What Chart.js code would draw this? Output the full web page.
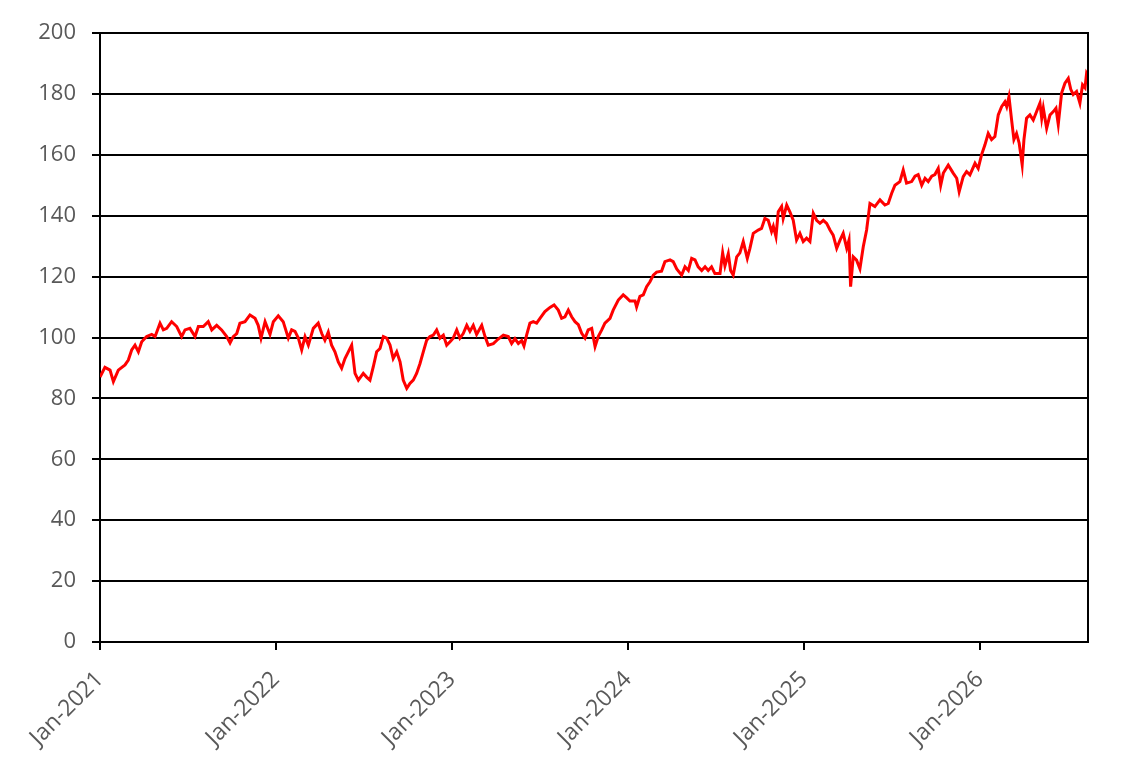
<!DOCTYPE html>
<html>
<head>
<meta charset="utf-8">
<script src="https://cdn.jsdelivr.net/npm/chart.js@4.4.1/dist/chart.umd.min.js"></script>
<style>
  body { margin: 0; background: #fff; }
  #wrap { width: 1144px; height: 769px; }
</style>
</head>
<body>
<div id="wrap"><canvas id="price-chart" width="1144" height="769"></canvas></div>
<script>
// x positions as decimal years
let years = [
  2021.000, 2021.028, 2021.057, 2021.076, 2021.104, 2021.142, 2021.161, 2021.180, 2021.199, 2021.218,
  2021.237, 2021.265, 2021.294, 2021.313, 2021.341, 2021.360, 2021.379, 2021.407, 2021.436, 2021.464,
  2021.483, 2021.511, 2021.540, 2021.559, 2021.587, 2021.615, 2021.635, 2021.663, 2021.691, 2021.720,
  2021.739, 2021.757, 2021.777, 2021.795, 2021.824, 2021.852, 2021.881, 2021.899, 2021.915, 2021.938,
  2021.966, 2021.985, 2022.013, 2022.041, 2022.070, 2022.089, 2022.108, 2022.127, 2022.146, 2022.165,
  2022.184, 2022.212, 2022.240, 2022.260, 2022.278, 2022.297, 2022.316, 2022.335, 2022.354, 2022.373,
  2022.392, 2022.411, 2022.430, 2022.449, 2022.468, 2022.496, 2022.515, 2022.534, 2022.553, 2022.572,
  2022.591, 2022.610, 2022.629, 2022.648, 2022.666, 2022.686, 2022.705, 2022.723, 2022.743, 2022.761,
  2022.780, 2022.799, 2022.818, 2022.837, 2022.856, 2022.875, 2022.894, 2022.913, 2022.932, 2022.951,
  2022.970, 2022.989, 2023.007, 2023.027, 2023.045, 2023.064, 2023.084, 2023.102, 2023.121, 2023.140,
  2023.169, 2023.188, 2023.206, 2023.235, 2023.263, 2023.292, 2023.320, 2023.339, 2023.358, 2023.377,
  2023.396, 2023.409, 2023.424, 2023.443, 2023.462, 2023.481, 2023.500, 2023.528, 2023.557, 2023.580,
  2023.604, 2023.623, 2023.642, 2023.661, 2023.680, 2023.699, 2023.718, 2023.737, 2023.756, 2023.774,
  2023.794, 2023.813, 2023.831, 2023.851, 2023.869, 2023.898, 2023.916, 2023.945, 2023.973, 2023.993,
  2024.011, 2024.040, 2024.049, 2024.068, 2024.087, 2024.106, 2024.125, 2024.144, 2024.163, 2024.191,
  2024.210, 2024.239, 2024.257, 2024.277, 2024.305, 2024.324, 2024.343, 2024.362, 2024.381, 2024.399,
  2024.419, 2024.438, 2024.456, 2024.475, 2024.494, 2024.523, 2024.538, 2024.551, 2024.570, 2024.583,
  2024.598, 2024.618, 2024.636, 2024.655, 2024.678, 2024.693, 2024.712, 2024.740, 2024.759, 2024.778,
  2024.797, 2024.816, 2024.826, 2024.841, 2024.854, 2024.873, 2024.882, 2024.902, 2024.920, 2024.939,
  2024.958, 2024.977, 2024.996, 2025.015, 2025.034, 2025.053, 2025.072, 2025.091, 2025.110, 2025.129,
  2025.148, 2025.166, 2025.186, 2025.205, 2025.223, 2025.243, 2025.256, 2025.265, 2025.280, 2025.299,
  2025.318, 2025.337, 2025.356, 2025.375, 2025.403, 2025.432, 2025.460, 2025.479, 2025.498, 2025.517,
  2025.545, 2025.564, 2025.583, 2025.612, 2025.631, 2025.649, 2025.669, 2025.688, 2025.706, 2025.726,
  2025.744, 2025.763, 2025.777, 2025.792, 2025.820, 2025.848, 2025.868, 2025.882, 2025.905, 2025.924,
  2025.943, 2025.972, 2025.990, 2026.009, 2026.028, 2026.047, 2026.066, 2026.085, 2026.104, 2026.123,
  2026.142, 2026.152, 2026.165, 2026.180, 2026.193, 2026.208, 2026.223, 2026.240, 2026.250, 2026.265,
  2026.284, 2026.303, 2026.322, 2026.341, 2026.351, 2026.360, 2026.379, 2026.398, 2026.417, 2026.432,
  2026.445, 2026.464, 2026.483, 2026.502, 2026.516, 2026.530, 2026.549, 2026.568, 2026.583, 2026.597,
  2026.606, 2026.614
];

let values = [
  87.0, 90.2, 89.3, 85.5, 89.3, 91.0, 92.6, 95.9, 97.5, 95.3,
  98.6, 100.3, 101.0, 100.3, 104.7, 102.5, 103.0, 105.2, 103.6, 100.3,
  102.5, 103.0, 100.3, 103.6, 103.6, 105.2, 102.5, 104.0, 102.5, 100.3,
  98.2, 100.3, 101.3, 104.7, 105.2, 107.4, 106.3, 104.0, 99.8, 105.2,
  101.0, 105.2, 107.1, 105.2, 99.8, 102.5, 102.0, 99.8, 95.9, 100.3,
  97.5, 103.0, 104.7, 101.3, 99.1, 101.8, 97.5, 95.3, 92.0, 89.9,
  93.1, 95.3, 97.5, 88.2, 86.0, 88.2, 87.0, 86.0, 90.4, 95.3,
  96.4, 100.3, 99.8, 97.5, 93.1, 95.3, 92.0, 86.0, 83.3, 84.9,
  86.0, 88.2, 91.4, 95.3, 99.1, 100.3, 100.8, 102.5, 99.8, 100.8,
  97.5, 98.6, 99.8, 102.5, 99.8, 101.3, 104.0, 102.0, 104.0, 101.0,
  104.0, 100.3, 97.5, 98.0, 99.5, 100.8, 100.3, 98.0, 99.6, 98.0,
  99.0, 97.2, 100.8, 104.7, 105.2, 104.7, 106.3, 108.5, 109.9, 110.7,
  109.0, 106.3, 106.8, 109.0, 106.8, 105.2, 104.2, 101.4, 99.8, 102.5,
  103.0, 97.0, 100.3, 102.5, 104.7, 106.3, 109.0, 112.3, 114.0, 113.0,
  112.0, 112.0, 110.0, 113.5, 114.0, 116.7, 118.3, 120.5, 121.5, 121.8,
  124.9, 125.5, 124.9, 122.5, 120.5, 123.2, 122.0, 126.0, 125.5, 123.2,
  122.0, 123.2, 122.0, 123.2, 121.0, 121.0, 127.8, 123.5, 127.5, 122.0,
  120.5, 126.5, 127.8, 131.5, 126.0, 129.3, 134.2, 135.3, 135.8, 139.1,
  138.5, 134.8, 136.5, 133.1, 141.3, 143.0, 139.1, 143.5, 141.3, 138.5,
  132.0, 134.2, 131.5, 132.6, 131.5, 140.8, 138.5, 137.5, 138.5, 137.5,
  135.3, 133.6, 129.3, 132.0, 134.2, 129.3, 132.0, 116.7, 126.5, 125.4,
  122.6, 129.8, 135.3, 144.0, 143.0, 145.2, 143.5, 144.0, 147.3, 150.0,
  151.2, 155.0, 150.7, 151.2, 153.0, 153.5, 150.0, 152.3, 151.2, 153.0,
  153.5, 155.5, 150.0, 154.0, 156.6, 154.0, 152.3, 147.9, 152.8, 154.5,
  153.4, 157.2, 155.5, 160.0, 163.2, 167.0, 165.0, 166.0, 173.1, 175.8,
  177.4, 175.8, 179.1, 171.4, 165.0, 167.0, 163.8, 156.7, 165.0, 172.0,
  173.1, 171.4, 174.2, 177.0, 172.0, 175.3, 168.7, 173.1, 174.2, 175.3,
  170.0, 180.3, 183.5, 185.1, 181.5, 179.8, 180.8, 177.0, 183.0, 182.0,
  186.8, 186.0
];

// axis settings
let yearTicks = [2021, 2022, 2023, 2024, 2025, 2026];
let xMin = 2021;
let xMax = 2026.614;
let yMin = 0;
let yMax = 200;
let yStep = 20;

let points = [];
years.forEach((y, i) => points.push({ x: y, y: values[i] }));

// right frame line of the plot area
const frameRight = {
    id: 'frameRight',
    afterDraw(chart) {
        const { ctx, chartArea } = chart;
        ctx.save();
        ctx.strokeStyle = '#000';
        ctx.lineWidth = 2;
        ctx.beginPath();
        ctx.moveTo(chartArea.right, chartArea.top - 1);
        ctx.lineTo(chartArea.right, chartArea.bottom + 1);
        ctx.stroke();
        ctx.restore();
    }
};

const ctx = document.getElementById('price-chart').getContext('2d');

let myChart = new Chart(ctx, {
    type: 'line',
    data: {
        datasets: [{
            label: 'Index',
            data: points,
            borderColor: '#ff0000',
            backgroundColor: '#ff0000',
            borderWidth: 3,
            pointRadius: 0,
            tension: 0
        }]
    },
    options: {
        responsive: false,
        animation: false,
        devicePixelRatio: 1,
        layout: { padding: { top: 33, right: 56, left: 0, bottom: 0 } },
        plugins: {
            legend: { display: false },
            tooltip: { enabled: false }
        },
        scales: {
            x: {
                type: 'linear',
                min: xMin,
                max: xMax,
                afterFit(scale) { scale.height = 127; },
                afterBuildTicks(scale) {
                    scale.ticks = yearTicks.map(v => ({ value: v }));
                },
                ticks: {
                    includeBounds: false,
                    autoSkip: false,
                    minRotation: 45,
                    maxRotation: 45,
                    padding: 16,
                    color: '#595959',
                    font: { family: '"Open Sans", sans-serif', size: 23 },
                    callback: v => 'Jan-' + v
                },
                grid: {
                    drawOnChartArea: false,
                    drawTicks: true,
                    tickLength: 8,
                    color: '#000',
                    lineWidth: 2
                },
                border: { display: true, color: '#000', width: 2 }
            },
            y: {
                min: yMin,
                max: yMax,
                afterFit(scale) { scale.width = 100; },
                ticks: {
                    stepSize: yStep,
                    padding: 16,
                    color: '#595959',
                    font: { family: '"Open Sans", sans-serif', size: 22 }
                },
                grid: {
                    color: '#000',
                    lineWidth: 2,
                    tickLength: 8
                },
                border: { display: true, color: '#000', width: 2 }
            }
        }
    },
    plugins: [frameRight]
});
</script>
</body>
</html>
